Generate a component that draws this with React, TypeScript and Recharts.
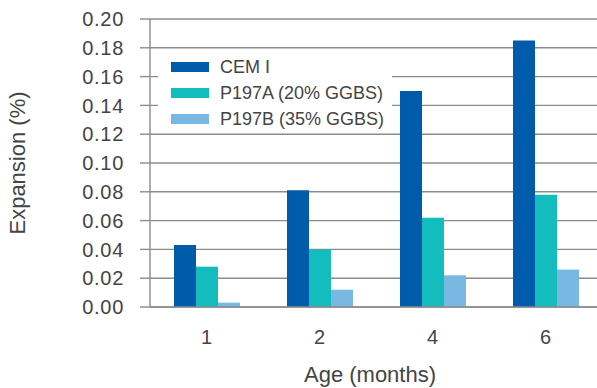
import { BarChart, Bar, XAxis, YAxis, CartesianGrid, Legend } from "recharts";

const categories = ["1", "2", "4", "6"];
const cemI = [0.043, 0.081, 0.15, 0.185];
const p197a = [0.028, 0.04, 0.062, 0.078];
const p197b = [0.003, 0.012, 0.022, 0.026];
const yTicks = [0, 0.02, 0.04, 0.06, 0.08, 0.1, 0.12, 0.14, 0.16, 0.18, 0.2];
const boundaryTicks = [1, 2, 3];

const seriesNames = ["CEM I", "P197A (20% GGBS)", "P197B (35% GGBS)"];
const COLORS = ["#005BAA", "#14BDBD", "#7AB8E4"];

const data = categories.map((name, i) => ({
	name,
	cem: cemI[i],
	a: p197a[i],
	b: p197b[i],
}));

const FONT = "'Liberation Sans', Arial, sans-serif";
const TEXT = "#444";
const LINE = "#8c8c8c";

function renderLegend(props: any) {
	const items = props.payload || [];
	return (
		<div
			style={{
				background: "#fff",
				width: 234,
				height: 78,
				paddingTop: 4,
				boxSizing: "border-box",
				fontFamily: FONT,
			}}
		>
			{items.map((item: any) => (
				<div
					key={item.value}
					style={{ display: "flex", alignItems: "center", height: 26 }}
				>
					<span
						style={{
							display: "inline-block",
							width: 38,
							height: 10,
							marginLeft: 13,
							marginRight: 11,
							background: item.color,
						}}
					/>
					<span style={{ fontSize: 18, color: TEXT }}>{item.value}</span>
				</div>
			))}
		</div>
	);
}

export default function App() {
	return (
		<div
			style={{
				position: "absolute",
				left: 0,
				top: 0,
				width: 597,
				height: 388,
				overflow: "hidden",
				background: "#fff",
			}}
		>
			<BarChart
				width={610}
				height={388}
				data={data}
				margin={{ top: 19, right: 8, bottom: 0, left: 0 }}
				barCategoryGap={24}
				barGap={0}
			>
				<CartesianGrid
					xAxisId="cat"
					vertical={false}
					stroke={LINE}
					strokeWidth={1.4}
				/>
				<XAxis
					xAxisId="b"
					type="number"
					domain={[0, 4]}
					ticks={boundaryTicks}
					height={0}
					axisLine={false}
					tick={false}
					tickSize={10}
					tickLine={{ stroke: LINE, strokeWidth: 1.4 }}
					allowDataOverflow
				/>
				<XAxis
					xAxisId="cat"
					dataKey="name"
					height={81}
					tickSize={0}
					tickMargin={23}
					axisLine={{ stroke: LINE, strokeWidth: 1.4 }}
					tickLine={false}
					tick={{ fill: TEXT, fontSize: 20, fontFamily: FONT }}
					label={{
						value: "Age (months)",
						position: "insideBottom",
						offset: 6,
						dx: -6,
						fill: TEXT,
						fontSize: 22,
						fontFamily: FONT,
					}}
				/>
				<YAxis
					width={150}
					domain={[0, 0.2]}
					ticks={yTicks}
					interval={0}
					tickSize={10}
					tickMargin={16}
					tickFormatter={(v: number) => v.toFixed(2)}
					axisLine={{ stroke: LINE, strokeWidth: 1.4 }}
					tickLine={{ stroke: LINE, strokeWidth: 1.4 }}
					tick={{ fill: TEXT, fontSize: 20, fontFamily: FONT, letterSpacing: 0.7 }}
					label={{
						value: "Expansion (%)",
						angle: -90,
						position: "center",
						dx: -58,
						fill: TEXT,
						fontSize: 22,
						fontFamily: FONT,
					}}
				/>
				<Legend
					layout="vertical"
					align="center"
					verticalAlign="middle"
					content={renderLegend}
					wrapperStyle={{ left: 158, top: 50, width: 234, height: 78 }}
				/>
				<Bar xAxisId="cat" dataKey="cem" name={seriesNames[0]} fill={COLORS[0]} isAnimationActive={false} />
				<Bar xAxisId="cat" dataKey="a" name={seriesNames[1]} fill={COLORS[1]} isAnimationActive={false} />
				<Bar xAxisId="cat" dataKey="b" name={seriesNames[2]} fill={COLORS[2]} isAnimationActive={false} />
			</BarChart>
		</div>
	);
}
